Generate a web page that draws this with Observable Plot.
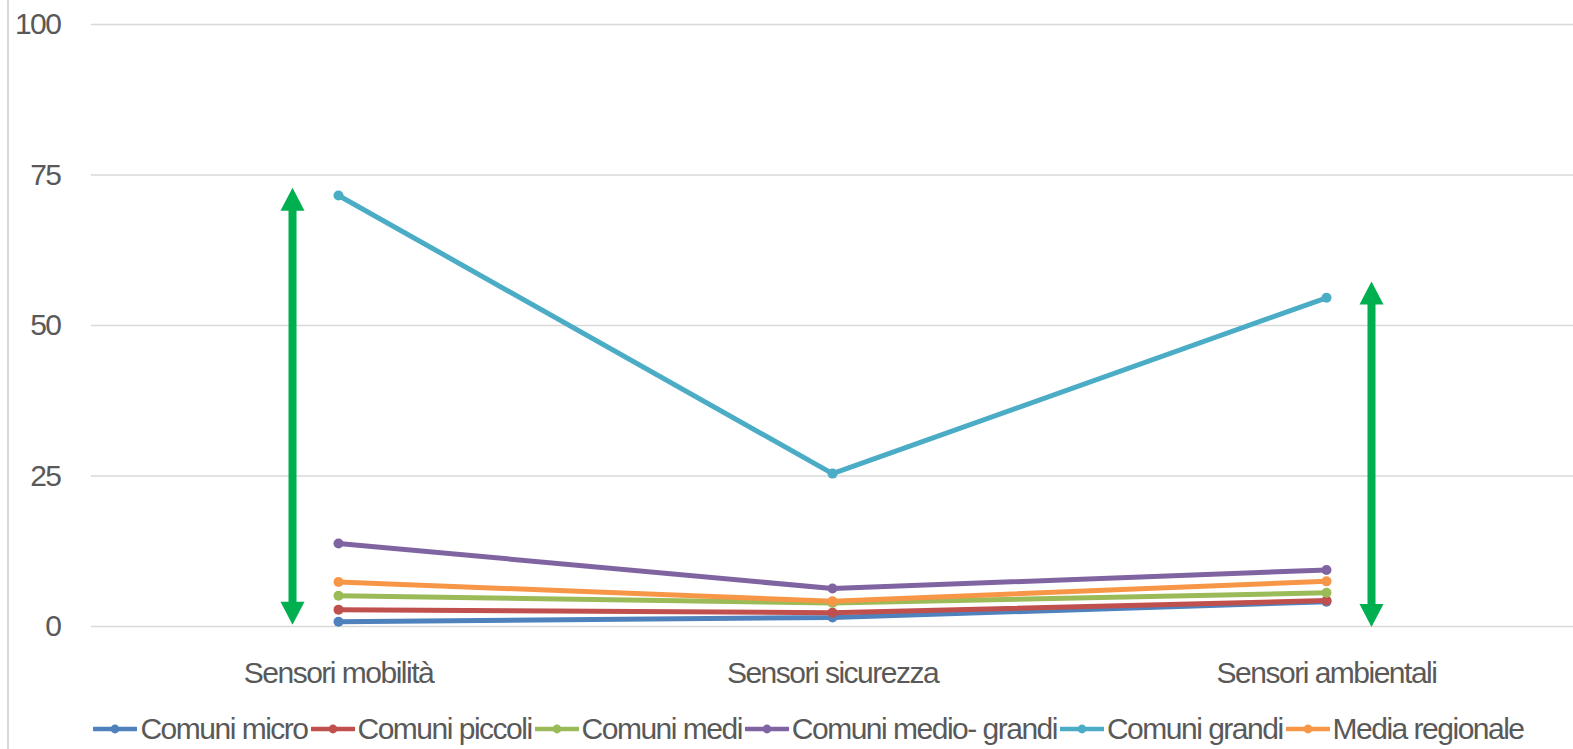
<!DOCTYPE html>
<html>
<head>
<meta charset="utf-8">
<script src="https://cdn.jsdelivr.net/npm/d3@7"></script>
<script src="https://cdn.jsdelivr.net/npm/@observablehq/plot@0.6"></script>
<style>
  html, body { margin: 0; padding: 0; background: #fff; }
  body { font-family: "Liberation Sans", Arial, sans-serif; width: 1573px; height: 749px; overflow: hidden; position: relative; }
  #wrap { position: absolute; left: 7px; top: 0; width: 1564px; height: 749px; border-left: 2px solid #d9d9d9; }
  #chart { position: absolute; left: 0; top: 0; }
  #legend { position: absolute; left: 0; top: 704px; width: 1602px; height: 49px; display: flex; justify-content: center; align-items: center;
            font-size: 30px; letter-spacing: -1.5px; color: #595959; white-space: nowrap; }
  .item { display: flex; align-items: center; margin: 0 3px 0 0; }
  .item svg { margin-right: 3px; }
</style>
</head>
<body>
<div id="wrap">
  <div id="chart"></div>
  <div id="legend"></div>
</div>
<script>
const categories = ["Sensori mobilità", "Sensori sicurezza", "Sensori ambientali"];
const seriesNames = ["Comuni micro", "Comuni piccoli", "Comuni medi", "Comuni medio- grandi", "Comuni grandi", "Media regionale"];
const seriesColors = ["#4F81BD", "#C0504D", "#9BBB59", "#8064A2", "#4BACC6", "#F79646"];

const comuniMicro = [0.8, 1.5, 4.1];
const comuniPiccoli = [2.8, 2.3, 4.3];
const comuniMedi = [5.1, 3.9, 5.6];
const comuniMedioGrandi = [13.8, 6.3, 9.4];
const comuniGrandi = [71.6, 25.4, 54.6];
const mediaRegionale = [7.4, 4.2, 7.5];

const yTicks = [0, 25, 50, 75, 100];

// green double arrows (annotation)
const arrowCategories = ["Sensori mobilità", "Sensori ambientali"];
const arrowTop = [72.9, 57.3];
const arrowBottom = [0.3, -0.1];
const arrowOffset = [-46, 45];

const seriesValues = [comuniMicro, comuniPiccoli, comuniMedi, comuniMedioGrandi, comuniGrandi, mediaRegionale];
const rows = [];
seriesValues.forEach((vals, si) => {
  vals.forEach((v, ci) => rows.push({series: seriesNames[si], cat: categories[ci], value: v}));
});

// custom arrowhead symbols: tip at the anchor point
const headUp = {draw(ctx) { ctx.moveTo(0, 0); ctx.lineTo(12, 23); ctx.lineTo(-12, 23); ctx.closePath(); }};
const headDown = {draw(ctx) { ctx.moveTo(0, 0); ctx.lineTo(12, -23); ctx.lineTo(-12, -23); ctx.closePath(); }};

const green = "#00B050";
const arrowMarks = arrowCategories.flatMap((c, i) => {
  const d = [{cat: c, top: arrowTop[i], bottom: arrowBottom[i]}];
  return [
    Plot.ruleX(d, {x: "cat", y1: "top", y2: "bottom", stroke: green, strokeWidth: 8, dx: arrowOffset[i], insetTop: 20, insetBottom: 20}),
    Plot.dot(d, {x: "cat", y: "top", symbol: headUp, r: 5, fill: green, stroke: "none", dx: arrowOffset[i]}),
    Plot.dot(d, {x: "cat", y: "bottom", symbol: headDown, r: 5, fill: green, stroke: "none", dx: arrowOffset[i]})
  ];
});

const chart = Plot.plot({
  width: 1564,
  height: 700,
  marginTop: 24,
  marginBottom: 74,
  marginLeft: 82,
  marginRight: 0,
  style: {fontFamily: "'Liberation Sans', Arial, sans-serif", fontSize: "30px", color: "#595959", background: "transparent", letterSpacing: "-1.5px", overflow: "visible"},
  x: {type: "point", domain: categories, padding: 0.5, label: null},
  y: {domain: [0, 100], label: null},
  color: {domain: seriesNames, range: seriesColors},
  marks: [
    Plot.gridY(yTicks, {stroke: "#d9d9d9", strokeOpacity: 1, strokeWidth: 1.3}),
    Plot.axisY(yTicks, {tickSize: 0, tickPadding: 31, label: null, fill: "#595959"}),
    Plot.axisX({tickSize: 0, tickPadding: 35, label: null, fill: "#595959"}),
    Plot.line(rows, {x: "cat", y: "value", z: "series", stroke: "series", strokeWidth: 5}),
    Plot.dot(rows, {x: "cat", y: "value", fill: "series", r: 5}),
    ...arrowMarks
  ]
});
document.getElementById("chart").appendChild(chart);

const legend = document.getElementById("legend");
seriesNames.forEach((name, i) => {
  const item = document.createElement("div");
  item.className = "item";
  item.innerHTML = `<svg width="44" height="12"><line x1="1" y1="6" x2="43" y2="6" stroke="${seriesColors[i]}" stroke-width="4.5" stroke-linecap="round"/><circle cx="22" cy="6" r="4.4" fill="${seriesColors[i]}"/></svg><span>${name}</span>`;
  legend.appendChild(item);
});
</script>
</body>
</html>
